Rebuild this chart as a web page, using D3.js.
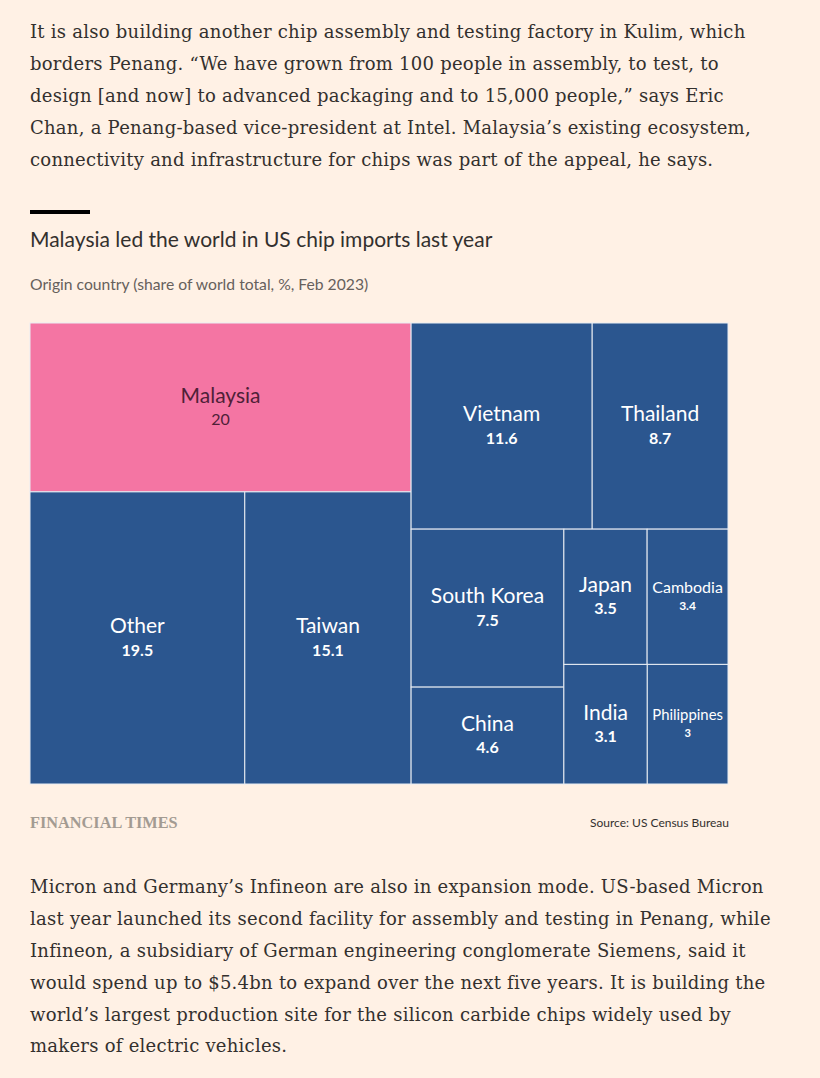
<!DOCTYPE html>
<html>
<head>
<meta charset="utf-8">
<script src="https://cdn.jsdelivr.net/npm/d3@7"></script>
<style>
  html, body { margin: 0; padding: 0; background: #fff1e5; }
  svg { display: block; }
</style>
</head>
<body>
<div id="chart"></div>
<script>
"use strict";

/* chart data */
const countries = ["Malaysia", "Other", "Taiwan", "Vietnam", "Thailand", "South Korea",
                   "China", "Japan", "Cambodia", "India", "Philippines"];
const shares    = [20, 19.5, 15.1, 11.6, 8.7, 7.5, 4.6, 3.5, 3.4, 3.1, 3];
const highlight = "Malaysia";

/* article text around the chart */
const introLines = [
  "It is also building another chip assembly and testing factory in Kulim, which",
  "borders Penang. \u201cWe have grown from 100 people in assembly, to test, to",
  "design [and now] to advanced packaging and to 15,000 people,\u201d says Eric",
  "Chan, a Penang-based vice-president at Intel. Malaysia\u2019s existing ecosystem,",
  "connectivity and infrastructure for chips was part of the appeal, he says."
];
const outroLines = [
  "Micron and Germany\u2019s Infineon are also in expansion mode. US-based Micron",
  "last year launched its second facility for assembly and testing in Penang, while",
  "Infineon, a subsidiary of German engineering conglomerate Siemens, said it",
  "would spend up to $5.4bn to expand over the next five years. It is building the",
  "world\u2019s largest production site for the silicon carbide chips widely used by",
  "makers of electric vehicles."
];
const title    = "Malaysia led the world in US chip imports last year";
const subtitle = "Origin country (share of world total, %, Feb 2023)";
const source   = "Source: US Census Bureau";

const W = 820, H = 1078;
const serif = "'DejaVu Serif', Georgia, serif";
const sans  = "Lato, 'Noto Sans', sans-serif";

const svg = d3.select("#chart").append("svg")
  .attr("width", W).attr("height", H);

/* body paragraphs */
function paragraph(lines, y0) {
  svg.append("g").selectAll("text")
    .data(lines)
    .enter().append("text")
    .attr("x", 30)
    .attr("y", (d, i) => y0 + i * 31.8)
    .attr("dy", ".35em")
    .style("font-family", serif)
    .style("font-size", "18px")
    .style("letter-spacing", "0.25px")
    .style("fill", "#33302e")
    .text(d => d);
}
paragraph(introLines, 32);
paragraph(outroLines, 887);

/* header */
svg.append("rect").attr("x", 30).attr("y", 210).attr("width", 60).attr("height", 4)
  .attr("fill", "#000");
svg.append("text").attr("x", 30).attr("y", 240).attr("dy", ".35em")
  .style("font-family", sans).style("font-size", "21px").style("fill", "#33302e")
  .text(title);
svg.append("text").attr("x", 30).attr("y", 285).attr("dy", ".35em")
  .style("font-family", sans).style("font-size", "15.7px").style("fill", "#66605c")
  .text(subtitle);

/* treemap */
const tm = { x: 30, y: 323, w: 698, h: 461 };

const root = d3.hierarchy({ children: countries.map((c, i) => ({ name: c, value: shares[i] })) })
  .sum(d => d.value)
  .sort((a, b) => b.value - a.value);

d3.treemap()
  .tile(d3.treemapBinary)
  .size([tm.w, tm.h])(root);

const cell = svg.append("g")
  .attr("transform", `translate(${tm.x},${tm.y})`)
  .selectAll("g")
  .data(root.leaves())
  .enter().append("g")
  .attr("transform", d => `translate(${d.x0},${d.y0})`);

cell.append("rect")
  .attr("width", d => d.x1 - d.x0)
  .attr("height", d => d.y1 - d.y0)
  .attr("fill", d => d.data.name === highlight ? "#f475a3" : "#2b568f")
  .attr("stroke", "#e9edf3")
  .attr("stroke-width", 1);

cell.each(function(d) {
  const g = d3.select(this);
  const w = d.x1 - d.x0, h = d.y1 - d.y0;
  const col = d.data.name === highlight ? "#4f1f38" : "#ffffff";

  const name = g.append("text")
    .attr("x", w / 2)
    .attr("text-anchor", "middle")
    .attr("dy", ".35em")
    .style("font-family", sans)
    .style("font-size", "21px")
    .style("fill", col)
    .text(d.data.name);

  /* shrink labels that don't fit the cell */
  const len = name.node().getComputedTextLength();
  const small = len > w - 10;
  const size = small ? Math.min(16, 21 * (w - 10) / len) : 21;
  const off = small ? 9 : 12;
  name.style("font-size", size + "px")
    .attr("y", h / 2 - off);

  g.append("text")
    .attr("x", w / 2)
    .attr("y", h / 2 + off)
    .attr("text-anchor", "middle")
    .attr("dy", ".35em")
    .style("font-family", sans)
    .style("font-size", small ? (size * 0.75) + "px" : "16px")
    .style("font-weight", d.data.name === highlight ? "normal" : "bold")
    .style("fill", col)
    .text(d3.format("")(d.data.value));
});

/* footer */
svg.append("text").attr("x", 30).attr("y", 822).attr("dy", ".35em")
  .style("font-family", "'Liberation Serif', serif").style("font-size", "16.3px")
  .style("font-weight", "bold").style("fill", "#a39b92")
  .text("FINANCIAL TIMES");
svg.append("text").attr("x", 729).attr("y", 823).attr("dy", ".35em")
  .attr("text-anchor", "end")
  .style("font-family", sans).style("font-size", "12px").style("fill", "#33302e")
  .text(source);
</script>
</body>
</html>
